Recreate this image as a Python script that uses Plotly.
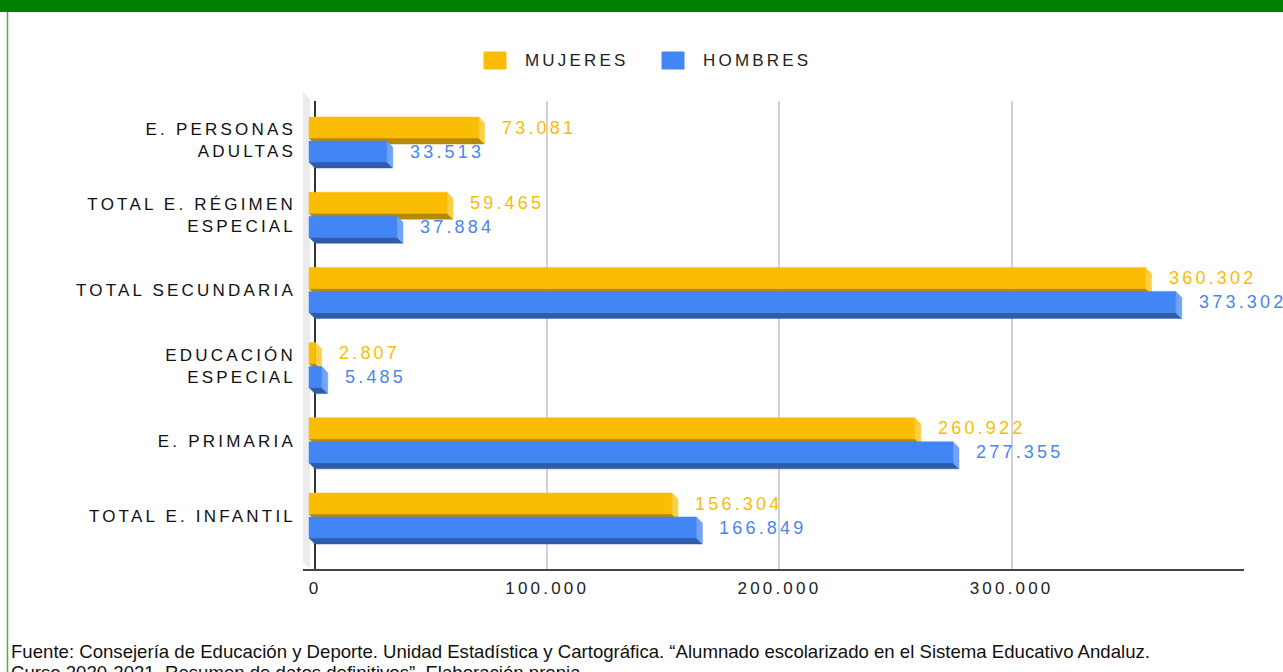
import plotly.graph_objects as go

# ---------------- data ----------------
categories = ["TOTAL E. INFANTIL", "E. PRIMARIA", "EDUCACIÓN<br>ESPECIAL",
              "TOTAL SECUNDARIA", "TOTAL E. RÉGIMEN<br>ESPECIAL", "E. PERSONAS<br>ADULTAS"]
mujeres = [156304, 260922, 2807, 360302, 59465, 73081]
hombres = [166849, 277355, 5485, 373302, 37884, 33513]
series_names = ["MUJERES", "HOMBRES"]
x_tickvals = [0, 100000, 200000, 300000, 400000]
x_ticktext = ["0", "100.000", "200.000", "300.000", ""]
footnote_lines = [
    "Fuente: Consejería de Educación y Deporte. Unidad Estadística y Cartográfica. "
    "“Alumnado escolarizado en el Sistema Educativo Andaluz.",
    "Curso 2020-2021. Resumen de datos definitivos”. Elaboración propia.",
]

# ---------------- style ----------------
W, H = 1283, 672
PX_L, PX_R, PX_T, PX_B = 303, 1244, 101, 569
X_MIN, X_MAX = -5168, 400086
Y_MIN, Y_MAX = -0.7048, 5.5186
kx = (PX_R - PX_L) / (X_MAX - X_MIN)
ky = (PX_B - PX_T) / (Y_MAX - Y_MIN)
DX = 6 / kx
DY = 6 / ky
FONT = "Liberation Sans, Arial, sans-serif"

styles = [
    dict(name=series_names[0], vals=mujeres, off=(-23, -2),
         front="#FBBC04", side="#FDCF45", bottom="#B58A0C", text="#FBBC04"),
    dict(name=series_names[1], vals=hombres, off=(1, 22),
         front="#4285F4", side="#71A4F7", bottom="#2E5CAB", text="#4A86EC"),
]


def fmt(v):
    return f"{v:,}".replace(",", ".")


fig = go.Figure()
annotations = []

for st in styles:
    fx, fy, sx, sy, bx, by = [], [], [], [], [], []
    for i, v in enumerate(st["vals"]):
        yt = i - st["off"][0] / ky
        yb = i - st["off"][1] / ky
        x0 = -DX
        x1 = v - DX
        fx += [x0, x1, x1, x0, x0, None]
        fy += [yt, yt, yb, yb, yt, None]
        sx += [x1, x1 + DX, x1 + DX, x1, x1, None]
        sy += [yt, yt - DY, yb - DY, yb, yt, None]
        bx += [x0, x1, x1 + DX, x0 + DX, x0, None]
        by += [yb, yb, yb - DY, yb - DY, yb, None]
        annotations.append(dict(
            x=v, y=(yt + yb) / 2, xref="x", yref="y", text=fmt(v),
            showarrow=False, xanchor="left", align="left", xshift=15,
            font=dict(family=FONT, size=18, color=st["text"])))
    for xs, ys, col in [(bx, by, st["bottom"]), (sx, sy, st["side"]), (fx, fy, st["front"])]:
        fig.add_trace(go.Scatter(
            x=xs, y=ys, mode="lines", fill="toself", fillcolor=col,
            line=dict(color=col, width=0.5), hoverinfo="skip",
            name=st["name"], showlegend=False))

# legend (custom)
leg = [(484, 523, styles[0]), (662, 701, styles[1])]
shapes = []
for sx0, tx0, st in leg:
    shapes.append(dict(type="rect", xref="paper", yref="paper",
                       x0=sx0 / W, x1=(sx0 + 22) / W, y0=1 - 69 / H, y1=1 - 52 / H,
                       fillcolor=st["front"], line=dict(color=st["front"], width=1)))
    annotations.append(dict(x=tx0 / W, y=1 - 60.5 / H, xref="paper", yref="paper",
                            text=st["name"], showarrow=False, xanchor="left", align="left",
                            yanchor="middle",
                            font=dict(family=FONT, size=17, color="#222222")))

# decorative frame
shapes.append(dict(type="rect", xref="paper", yref="paper", x0=0, x1=1,
                   y0=1 - 12 / H, y1=1, fillcolor="#008000", line=dict(width=0), layer="above"))
shapes.append(dict(type="line", xref="paper", yref="paper", x0=7.5 / W, x1=7.5 / W,
                   y0=0, y1=1 - 12 / H, line=dict(color="#4CAF50", width=1.5)))
# left wall
wall = "M {a},{b} L {c},{d} L {c},{e} L {a},{f} Z".format(
    a=303 / W, b=1 - 92 / H, c=310 / W, d=1 - 99 / H, e=1 - 569 / H, f=1 - 562 / H)
shapes.append(dict(type="path", xref="paper", yref="paper", path=wall,
                   fillcolor="#EBEBEB", line=dict(width=0), layer="below"))

for line_text, top_px in zip(footnote_lines, [638.5, 660.2]):
    annotations.append(dict(x=8.5 / W, y=1 - top_px / H, xref="paper", yref="paper",
                            text=line_text, showarrow=False, xanchor="left", yanchor="top",
                            align="left", font=dict(family=FONT, size=18.6, color="#111111")))

fig.update_layout(
    width=W, height=H, margin=dict(l=0, r=0, t=0, b=0),
    plot_bgcolor="white", paper_bgcolor="white", showlegend=False,
    xaxis=dict(domain=[PX_L / W, PX_R / W], range=[X_MIN, X_MAX],
               tickvals=x_tickvals, ticktext=x_ticktext, ticks="",
               ticklabelstandoff=3,
               showgrid=True, gridcolor="#D3D3D3", gridwidth=2,
               zeroline=True, zerolinecolor="#333333", zerolinewidth=2,
               showline=True, linecolor="#444444", linewidth=2,
               tickfont=dict(family=FONT, size=17, color="#222222"),
               fixedrange=True),
    yaxis=dict(domain=[1 - PX_B / H, 1 - PX_T / H], range=[Y_MIN, Y_MAX],
               tickvals=list(range(len(categories))), ticktext=categories,
               ticks="", ticklabelstandoff=6,
               showgrid=False, zeroline=False, showline=False,
               tickfont=dict(family=FONT, size=17, color="#111111"),
               fixedrange=True),
    shapes=shapes, annotations=annotations,
)

post = """
document.body.style.margin='0';document.body.style.overflow='hidden';
var gd=document.getElementById('{plot_id}');
function sp(){
  gd.querySelectorAll('.xtick text, .ytick text, .annotation-text').forEach(function(t){
    var c=t.textContent;
    t.style.letterSpacing = (c.indexOf('Fuente')===0 || c.indexOf('Curso')===0) ? '0px' : '3.2px';
  });
}
sp(); gd.on('plotly_afterplot', sp);
"""
fig.write_html("out.html", post_script=post, config={"displayModeBar": False})
